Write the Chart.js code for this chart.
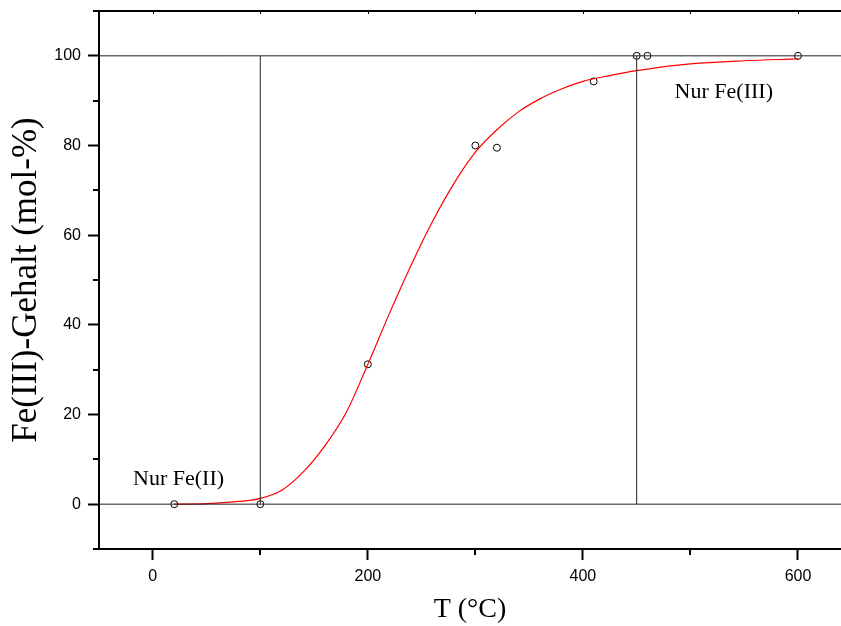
<!DOCTYPE html>
<html>
<head>
<meta charset="utf-8">
<script src="https://cdn.jsdelivr.net/npm/chart.js@4.4.1/dist/chart.umd.min.js"></script>
<style>
  html, body { margin: 0; padding: 0; background: #fff; }
</style>
</head>
<body>
<canvas id="feChart" width="841" height="626"></canvas>
<script>
// measured points (open circles)
const measuredT = [20, 100, 200, 300, 320, 410, 450, 460, 600];
const measuredFe3 = [0, 0, 31.2, 80, 79.5, 94.3, 100, 100, 100];

// fitted curve (red)
const fitT = [20, 50, 75, 100, 120, 140, 160, 180, 200, 220, 240, 260, 280, 300, 320, 340, 360, 380, 400, 425, 450, 500, 550, 600];
const fitFe3 = [0, 0.1, 0.5, 1.3, 3.1, 7.2, 13, 20.5, 31.2, 42.5, 53.2, 63, 71.5, 78.5, 83.5, 87.5, 90.4, 92.6, 94.3, 95.6, 96.7, 98.2, 98.9, 99.3];

// limit lines
const limitT = [100, 450];
const levelFe3 = [0, 100];

// axes
const xRange = [-50, 640];
const yRange = [-10, 110];
const xMajorTicks = [0, 200, 400, 600];
const xMinorTicks = [100, 300, 500];
const yMajorTicks = [0, 20, 40, 60, 80, 100];
const yMinorTicks = [-10, 10, 30, 50, 70, 90, 110];

const noteTexts = ['Nur Fe(II)', 'Nur Fe(III)'];

const refStyle = { borderColor: '#222', borderWidth: 1, pointRadius: 0, showLine: true, fill: false };

const datasets = [];
levelFe3.forEach(v => {
    datasets.push(Object.assign({ data: [{ x: xRange[0], y: v }, { x: xRange[1], y: v }] }, refStyle));
});
limitT.forEach(t => {
    datasets.push(Object.assign({ data: [{ x: t, y: levelFe3[0] }, { x: t, y: levelFe3[1] }] }, refStyle));
});
datasets.push({
    data: fitT.map((t, i) => ({ x: t, y: fitFe3[i] })),
    borderColor: '#ff0000',
    borderWidth: 1.2,
    pointRadius: 0,
    showLine: true,
    cubicInterpolationMode: 'monotone',
    fill: false
});
datasets.push({
    data: measuredT.map((t, i) => ({ x: t, y: measuredFe3[i] })),
    borderColor: '#000',
    backgroundColor: 'rgba(0,0,0,0)',
    borderWidth: 1,
    pointRadius: 3.5,
    showLine: false
});

// minor ticks, top frame and the two notes
const extras = {
    id: 'extras',
    afterDraw(chart) {
        const { ctx, chartArea: a, scales: { x, y } } = chart;
        ctx.save();
        ctx.strokeStyle = '#000';
        ctx.lineWidth = 2;
        ctx.beginPath();
        ctx.moveTo(a.left, a.top);
        ctx.lineTo(a.right, a.top);
        ctx.stroke();

        ctx.beginPath();
        yMinorTicks.forEach(v => {
            const p = Math.round(y.getPixelForValue(v));
            ctx.moveTo(a.left - 6, p);
            ctx.lineTo(a.left, p);
        });
        xMinorTicks.forEach(v => {
            const p = Math.round(x.getPixelForValue(v));
            ctx.moveTo(p, a.bottom);
            ctx.lineTo(p, a.bottom + 6);
        });
        ctx.stroke();

        ctx.lineWidth = 1;
        ctx.beginPath();
        xMajorTicks.concat(xMinorTicks).forEach(v => {
            const p = Math.round(x.getPixelForValue(v)) + 0.5;
            ctx.moveTo(p, a.top);
            ctx.lineTo(p, a.top + 3);
        });
        ctx.stroke();

        ctx.fillStyle = '#000';
        ctx.font = '22px "Liberation Serif", "Times New Roman", serif';
        ctx.textAlign = 'center';
        ctx.textBaseline = 'alphabetic';
        ctx.fillText(noteTexts[0], x.getPixelForValue(24), y.getPixelForValue(4.2));
        ctx.fillText(noteTexts[1], x.getPixelForValue(531), y.getPixelForValue(90.6));
        ctx.restore();
    }
};

const config = {
    type: 'scatter',
    data: { datasets: datasets },
    options: {
        responsive: false,
        animation: false,
        layout: { autoPadding: false, padding: { top: 11, right: 0, left: 0, bottom: 0 } },
        plugins: {
            legend: { display: false },
            tooltip: { enabled: false }
        },
        scales: {
            x: {
                type: 'linear',
                min: xRange[0],
                max: xRange[1],
                afterBuildTicks: s => { s.ticks = xMajorTicks.map(v => ({ value: v })); },
                afterFit: s => { s.height = 77; s.paddingLeft = 0; s.paddingRight = 0; },
                ticks: {
                    color: '#000',
                    padding: 7,
                    font: { family: '"Liberation Sans", Arial, sans-serif', size: 16 }
                },
                grid: { drawOnChartArea: false, drawTicks: true, tickLength: 11, tickWidth: 2, tickColor: '#000' },
                border: { display: true, color: '#000', width: 2 },
                title: {
                    display: true,
                    text: 'T (°C)',
                    color: '#000',
                    padding: { top: 0, bottom: 0 },
                    font: { family: '"Liberation Serif", "Times New Roman", serif', size: 28, weight: 'normal' }
                }
            },
            y: {
                type: 'linear',
                min: yRange[0],
                max: yRange[1],
                afterBuildTicks: s => { s.ticks = yMajorTicks.map(v => ({ value: v })); },
                afterFit: s => { s.width = 99; s.paddingTop = 0; s.paddingBottom = 0; },
                ticks: {
                    color: '#000',
                    padding: 7,
                    font: { family: '"Liberation Sans", Arial, sans-serif', size: 16 }
                },
                grid: { drawOnChartArea: false, drawTicks: true, tickLength: 11, tickWidth: 2, tickColor: '#000' },
                border: { display: true, color: '#000', width: 2 },
                title: {
                    display: true,
                    text: 'Fe(III)-Gehalt (mol-%)',
                    color: '#000',
                    padding: { top: 6, bottom: 0 },
                    font: { family: '"Liberation Serif", "Times New Roman", serif', size: 35, weight: 'normal' }
                }
            }
        }
    },
    plugins: [extras]
};

const chart = new Chart(document.getElementById('feChart').getContext('2d'), config);
</script>
</body>
</html>
